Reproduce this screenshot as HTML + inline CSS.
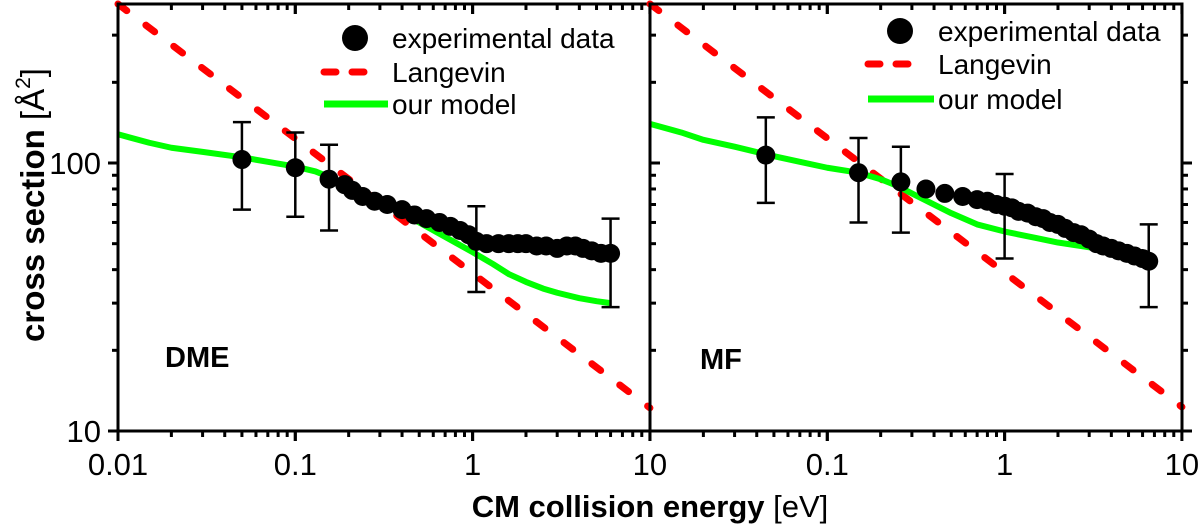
<!DOCTYPE html>
<html><head><meta charset="utf-8"><style>
html,body{margin:0;padding:0;background:#fff;width:1200px;height:530px;overflow:hidden}
svg text{font-family:"Liberation Sans",Arial,sans-serif}
</style></head><body>
<svg id="chart" width="1200" height="530" viewBox="0 0 1200 530"></svg>
<script>
const xTicks=[0.01,0.1,1,10];
const xTickLabels=["0.01","0.1","1","10"];
const yTicks=[10,100];
const yTickLabels=["10","100"];
// DME panel
const dmeExpE=[0.05,0.1,0.155,0.19,0.21,0.24,0.28,0.33,0.4,0.47,0.55,0.65,0.75,0.85,0.95,1.05,1.2,1.4,1.6,1.8,2.0,2.3,2.6,3.0,3.4,3.8,4.2,4.7,5.3,6.0];
const dmeExpV=[103,96,87,83,79,75,72,70,67,64,62,60,58,56,54,51,50,50,50,50,50,49,49,48,49,49,48,47,46,46];
const dmeErrE=[0.05,0.1,0.155,1.05,6.0];
const dmeErrHi=[142,130,117,69,62];
const dmeErrLo=[67,63,56,33,29];
const dmeModelE=[0.01,0.015,0.02,0.03,0.05,0.07,0.1,0.13,0.16,0.2,0.25,0.3,0.4,0.5,0.7,1,1.3,1.6,2,2.5,3,4,5,6];
const dmeModelV=[128,119,114,110,105,101,97,93,88,82,76,72,65,60,53,46.5,42,38.5,36,34,32.8,31.3,30.5,30];
const dmeLangE=[0.01,10];
const dmeLangV=[392,12.2];
// MF panel
const mfExpE=[0.045,0.15,0.26,0.36,0.46,0.58,0.7,0.8,0.9,1.0,1.1,1.2,1.35,1.5,1.65,1.8,2.0,2.2,2.45,2.7,3.0,3.3,3.6,4.0,4.4,4.9,5.4,6.0,6.5];
const mfExpV=[107,92,85,80,77,75,73,72,70,69,68,66,65,63,62,60,59,57,55,54,52,50,49,48,47,46,45,44,43];
const mfErrE=[0.045,0.15,0.26,1.0,6.5];
const mfErrHi=[148,124,115,91,59];
const mfErrLo=[71,60,55,44,29];
const mfModelE=[0.01,0.015,0.02,0.03,0.05,0.07,0.1,0.15,0.2,0.25,0.3,0.4,0.5,0.7,1,1.5,2,3,4];
const mfModelV=[140,130,122,115,106,101,96,92,87,82,77,70,65,59,55.5,52.5,50.5,48.5,47];
const mfLangE=[0.01,10];
const mfLangV=[392,12.3];

const NS="http://www.w3.org/2000/svg";
const svg=document.getElementById('chart');
function mk(tag,attrs,parent){const e=document.createElementNS(NS,tag);for(const k in attrs)e.setAttribute(k,attrs[k]);(parent||svg).appendChild(e);return e;}
const yTop=4,yBot=431;
function ys(v){return yBot-(Math.log10(v)-1)*268;}
function makeX(x0){return v=>x0+(Math.log10(v)+2)*177.3;}

function panel(x0,name,label,labelX,labelY,expE,expV,errE,errHi,errLo,modE,modV,langE,langV,leg){
  const xs=makeX(x0), x1=x0+532;
  const g=mk('g',{});
  
  
  for(let d=-2;d<1;d++){for(let m=1;m<=10;m++){const v=m*Math.pow(10,d);const x=xs(v);const L=(m==1||m==10)?10:6;
    mk('line',{x1:x,y1:yBot,x2:x,y2:yBot+L,stroke:'#000','stroke-width':3},g);
    mk('line',{x1:x,y1:yTop,x2:x,y2:yTop+L,stroke:'#000','stroke-width':3},g);}}
  xTicks.forEach((v,i)=>{if(x0>118&&i==0)return;const t=mk('text',{x:xs(v),y:475,'font-size':31,'text-anchor':'middle'},g);t.textContent=xTickLabels[i];
    });
  for(let d=1;d<3;d++){for(let m=1;m<=9;m++){const v=m*Math.pow(10,d);if(v>392)continue;const y=ys(v);const L=m==1?10:6;
    if(x0==118)mk('line',{x1:x0,y1:y,x2:x0-L,y2:y,stroke:'#000','stroke-width':3},g);
    else mk('line',{x1:x1,y1:y,x2:x1+L,y2:y,stroke:'#000','stroke-width':3},g);
    if(x0==118)mk('line',{x1:x1,y1:y,x2:x1+L,y2:y,stroke:'#000','stroke-width':3},g);}}
  mk('line',{x1:x0-10,y1:ys(10),x2:x0,y2:ys(10),stroke:'#000','stroke-width':3},g);
  if(x0==118){yTicks.forEach((v,i)=>{const t=mk('text',{x:101,y:ys(v)+11,'font-size':31,'text-anchor':'end'},g);t.textContent=yTickLabels[i];
    });}
  const lp=langE.map((e,i)=>xs(e)+','+ys(langV[i])).join(' ');
  const ll=mk('polyline',{points:lp,fill:'none',stroke:'#ff0000','stroke-width':7,'stroke-dasharray':'11 24','stroke-linecap':'round'},g);
  
  const mp=modE.map((e,i)=>xs(e)+','+ys(modV[i])).join(' ');
  const ml=mk('polyline',{points:mp,fill:'none',stroke:'#00ff00','stroke-width':6,'stroke-linejoin':'round'},g);
  
  errE.forEach((e,i)=>{const x=xs(e);const eb=mk('path',{d:`M${x},${ys(errHi[i])}V${ys(errLo[i])}M${x-9},${ys(errHi[i])}H${x+9}M${x-9},${ys(errLo[i])}H${x+9}`,stroke:'#000','stroke-width':2.5,fill:'none'},g);
    });
  expE.forEach((e,i)=>{const c=mk('circle',{cx:xs(e),cy:ys(expV[i]),r:9.5,fill:'#000'},g);
    });
  mk('rect',{x:x0,y:yTop,width:532,height:yBot-yTop,fill:'none',stroke:'#000','stroke-width':3},g);
  const lt=mk('text',{x:labelX,y:labelY,'font-size':29,'font-weight':'bold'},g);lt.textContent=label;
  
  const lg=mk('g',{},g);
  mk('circle',{cx:leg.dx,cy:leg.y1,r:13,fill:'#000'},lg);
  mk('line',{x1:leg.lx,y1:leg.y2,x2:leg.lx+40,y2:leg.y2,stroke:'#ff0000','stroke-width':7,'stroke-dasharray':'12 16','stroke-linecap':'round'},lg);
  mk('line',{x1:leg.lx,y1:leg.y3,x2:leg.tx-4,y2:leg.y3,stroke:'#00ff00','stroke-width':7},lg);
  [['experimental data',leg.y1],['Langevin',leg.y2],['our model',leg.y3]].forEach(a=>{const t=mk('text',{x:leg.tx,y:a[1]+10,'font-size':28},lg);t.textContent=a[0];});
}
panel(118,'dme','DME',165,367,dmeExpE,dmeExpV,dmeErrE,dmeErrHi,dmeErrLo,dmeModelE,dmeModelV,dmeLangE,dmeLangV,{dx:355,lx:324,tx:392,y1:38,y2:72,y3:104});
panel(650,'mf','MF',700,369,mfExpE,mfExpV,mfErrE,mfErrHi,mfErrLo,mfModelE,mfModelV,mfLangE,mfLangV,{dx:900,lx:868,tx:938,y1:31,y2:64,y3:99});
const xt=mk('text',{x:650,y:517,'font-size':31,'text-anchor':'middle','font-weight':'bold'});
xt.innerHTML='CM collision energy <tspan font-weight="normal">[eV]</tspan>';

const yt=mk('text',{x:0,y:0,'font-size':33,'text-anchor':'middle','font-weight':'bold',transform:'translate(44,205) rotate(-90)'});
yt.innerHTML='cross section <tspan font-weight="normal">[Å<tspan dy="-14" font-size="21">2</tspan><tspan dy="14">]</tspan></tspan>';

</script>
</body></html>
